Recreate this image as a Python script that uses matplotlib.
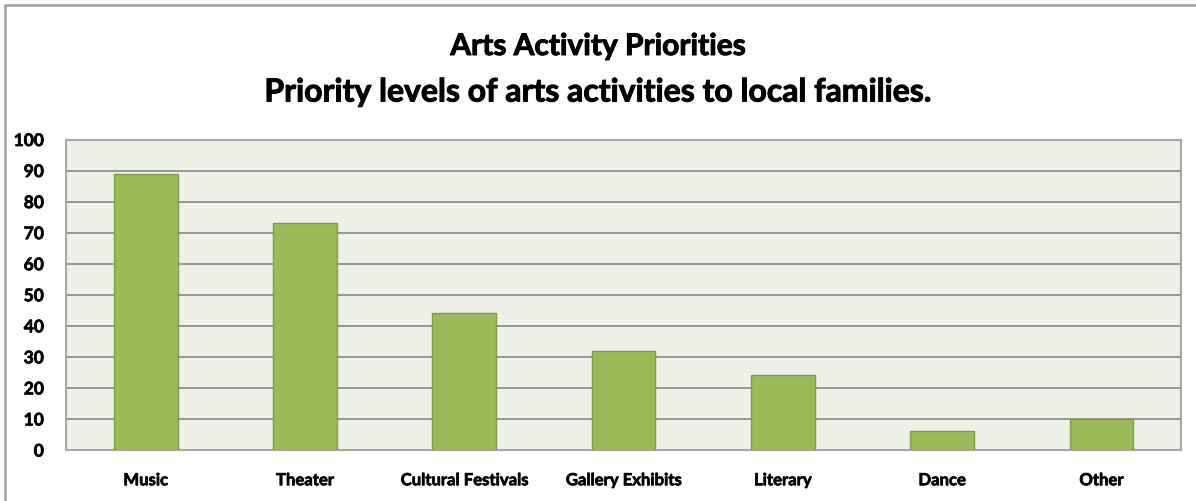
import matplotlib.pyplot as plt
import matplotlib.patheffects as pe
from matplotlib.patches import Rectangle

# survey results
activities = ["Music", "Theater", "Cultural Festivals", "Gallery Exhibits",
              "Literary", "Dance", "Other"]
priority = [89, 73, 44, 32, 24, 6, 10]
y_ticks = [0, 10, 20, 30, 40, 50, 60, 70, 80, 90, 100]

BAR_GREEN = "#9BBB59"
BAR_EDGE = "#7F9B48"
PLOT_BG = "#EEF1E8"
GRID = "#8E8E8E"

plt.rcParams["font.family"] = ["Lato", "DejaVu Sans"]

# slightly heavier strokes for the bold text
heavy = [pe.withStroke(linewidth=0.7, foreground="black")]
heavy_small = [pe.withStroke(linewidth=0.5, foreground="black")]

fig = plt.figure(figsize=(11.96, 5.01), dpi=100)
ax = fig.add_axes([66 / 1196, 51 / 501, 1115 / 1196, 310.5 / 501])

x = range(len(activities))
ax.bar(x, priority, width=0.40, color=BAR_GREEN, edgecolor=BAR_EDGE,
       linewidth=1.0, zorder=3)

ax.set_xlim(-0.5, len(activities) - 0.5)
ax.set_ylim(0, 100)
ax.set_facecolor(PLOT_BG)
ax.set_yticks(y_ticks)
ax.set_yticklabels([str(t) for t in y_ticks], fontsize=12.5, fontweight="bold",
                   path_effects=heavy_small)
ax.set_xticks(list(x))
ax.set_xticklabels(activities, fontsize=12, fontweight="bold",
                   path_effects=heavy_small)
ax.tick_params(axis="y", length=0, pad=16)
ax.tick_params(axis="x", length=0, pad=16)
ax.yaxis.grid(True, color=GRID, linewidth=1.3, zorder=1)
ax.set_axisbelow(True)
for side in ax.spines.values():
    side.set_color("#A8A8A8")
    side.set_linewidth(1.5)

# chart area border (top and left edges are visible)
fig.add_artist(Rectangle((5 / 1196, -0.1), 1.2, 1.1 - 5 / 501,
                         transform=fig.transFigure, fill=False,
                         edgecolor="#A0A0A0", linewidth=1.8))

fig.text(0.5, 1 - 46 / 501, "Arts Activity Priorities", ha="center",
         va="center", fontsize=21.5, fontweight="bold", path_effects=heavy)
fig.text(0.5, 1 - 92 / 501, "Priority levels of arts activities to local families.",
         ha="center", va="center", fontsize=23, fontweight="bold",
         path_effects=heavy)

fig.savefig("out.png", dpi=100)
